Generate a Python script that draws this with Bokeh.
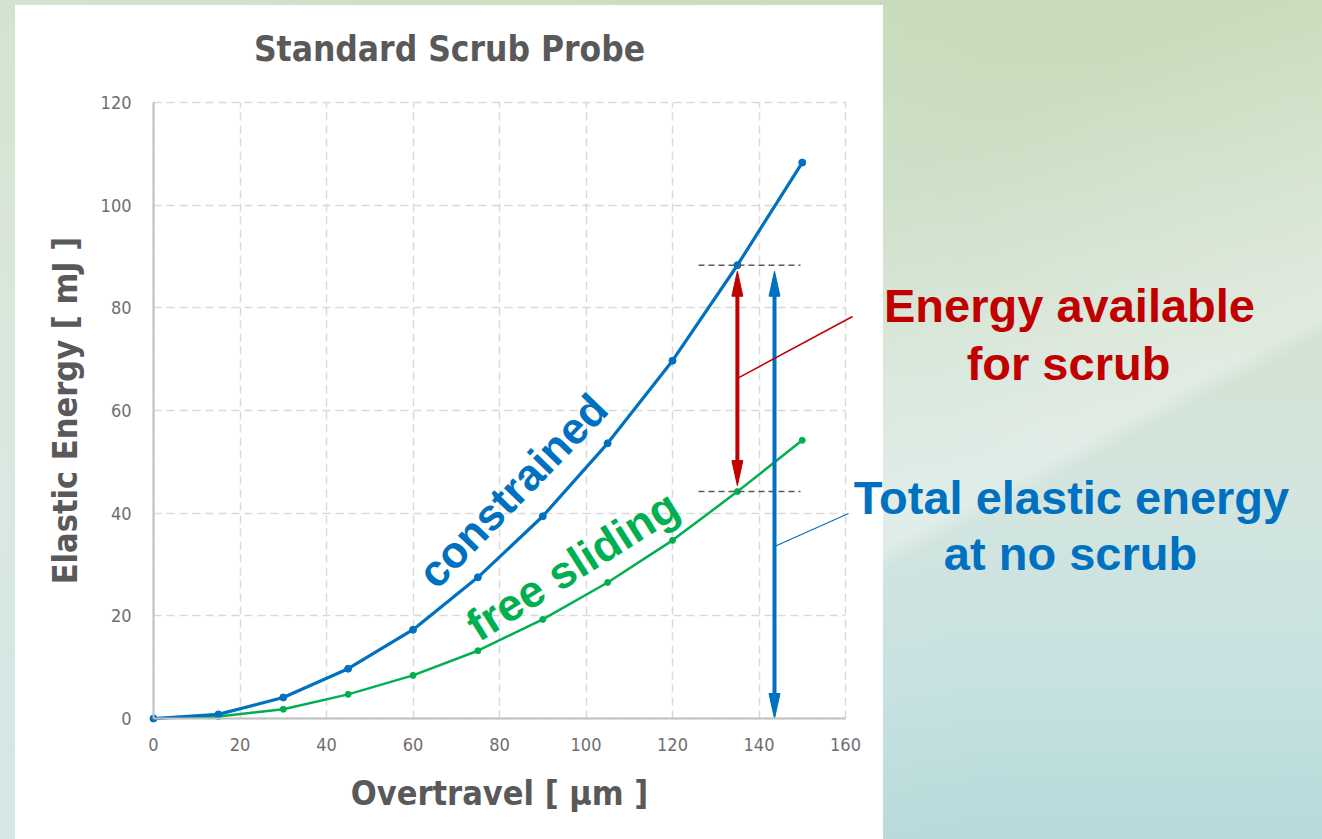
from bokeh.plotting import figure
from bokeh.models import Range1d, FixedTicker, Label, Arrow, InlineStyleSheet
from bokeh.embed import file_html
from bokeh.resources import INLINE

# ---- data -------------------------------------------------------------
overtravel = [0, 15, 30, 45, 60, 75, 90, 105, 120, 135, 150]          # µm
constrained = [0.0, 0.8, 4.1, 9.7, 17.3, 27.5, 39.4, 53.6, 69.7, 88.3, 108.3]  # mJ
free_sliding = [0.0, 0.4, 1.8, 4.7, 8.4, 13.2, 19.3, 26.5, 34.7, 44.2, 54.2]   # mJ
x_ticks = [0, 20, 40, 60, 80, 100, 120, 140, 160]
y_ticks = [0, 20, 40, 60, 80, 100, 120]

BLUE = "#0070C0"
GREEN = "#00B050"
RED = "#C00000"
GREY = "#595959"
NARROW = "DejaVu Sans Condensed"
BOLD_SANS = "Liberation Sans"

# ---- page geometry (pixels) -------------------------------------------
# The frame fills the whole page; the chart box sits inside it.
W, H = 1322, 839
BL, BR, BT, BB = 153, 845, 102, 718          # chart box edges on the page
X0, X1 = x_ticks[0], x_ticks[-1]
Y0, Y1 = y_ticks[0], y_ticks[-1]
PX_X = (X1 - X0) / (BR - BL)   # data units per pixel, x
PX_Y = (Y1 - Y0) / (BB - BT)   # data units per pixel, y


def dx(px):
    """page x pixel -> data x"""
    return X0 + (px - BL) * PX_X


def dy(py):
    """page y pixel -> data y"""
    return Y0 + (BB - py) * PX_Y


background = InlineStyleSheet(css="""
:host {
  background:
    linear-gradient(#ffffff, #ffffff) 15px 5px / 868px 834px no-repeat,
    linear-gradient(152deg, rgba(255,255,255,0) 42%, rgba(255,255,255,0.32) 66%, rgba(255,255,255,0) 67.5%),
    linear-gradient(to right, rgba(226,236,230,0.5) 0%, rgba(226,236,230,0) 75%),
    linear-gradient(to bottom, #c7dbb9 0%, #d2e2d2 40%, #d3e5df 60%, #c6e1e1 82%, #b6dada 100%);
}
""")

p = figure(width=W, height=H, title=None,
           x_range=Range1d(dx(0), dx(W)), y_range=Range1d(dy(H), dy(0)),
           output_backend="svg", toolbar_location=None, min_border=0,
           background_fill_color=None, border_fill_color=None,
           outline_line_color=None, stylesheets=[background])

# ---- axes & grid --------------------------------------------------------
p.xaxis.fixed_location = Y0
p.yaxis.fixed_location = X0
p.xaxis.bounds = (X0, X1)
p.yaxis.bounds = (Y0, Y1)
p.xaxis.ticker = FixedTicker(ticks=x_ticks)
p.yaxis.ticker = FixedTicker(ticks=y_ticks)
for ax in (p.xaxis[0], p.yaxis[0]):
    ax.axis_line_color = "#bfbfbf"
    ax.axis_line_width = 2
    ax.major_tick_line_color = None
    ax.minor_tick_line_color = None
    ax.major_tick_out = 0
    ax.major_tick_in = 0
    ax.minor_tick_out = 0
    ax.minor_tick_in = 0
    ax.major_label_text_font = NARROW
    ax.major_label_text_font_size = "18px"
    ax.major_label_text_color = "#6e6e6e"
    ax.axis_label_text_font = NARROW
    ax.axis_label_text_font_style = "bold"
    ax.axis_label_text_font_size = "34px"
    ax.axis_label_text_color = GREY
p.xaxis.axis_label = "Overtravel [ µm ]"
p.yaxis.axis_label = "Elastic Energy [ mJ ]"
p.xaxis.major_label_standoff = 19
p.yaxis.major_label_standoff = 22
p.xaxis.axis_label_standoff = 19
p.yaxis.axis_label_standoff = 13

p.xgrid.bounds = (X0, X1)
p.xgrid.cross_bounds = (Y0, Y1)
p.ygrid.bounds = (Y0, Y1)
p.ygrid.cross_bounds = (X0, X1)
for g in (p.xgrid[0], p.ygrid[0]):
    g.grid_line_color = "#d9d9d9"
    g.grid_line_width = 1.5
    g.grid_line_dash = "8 5"

# ---- series -------------------------------------------------------------
p.line(overtravel, free_sliding, line_color=GREEN, line_width=2.5)
p.scatter(overtravel, free_sliding, size=6, color=GREEN)
p.line(overtravel, constrained, line_color=BLUE, line_width=3.2)
p.scatter(overtravel, constrained, size=7, color=BLUE)

# ---- reference marks at 135 µm -----------------------------------------
i_ref = overtravel.index(135)
e_hi = constrained[i_ref]
e_lo = free_sliding[i_ref]

p.segment(x0=[dx(698)] * 2, y0=[e_hi, e_lo], x1=[dx(800)] * 2, y1=[e_hi, e_lo],
          line_color=GREY, line_width=1.5, line_dash="6 4")

HEAD_L = 25 * PX_Y
HEAD_W = 5.5 * PX_X
GAP = 6 * PX_Y


def double_arrow(x, y_bot, y_top, color):
    p.segment(x0=[x], y0=[y_bot + HEAD_L * 0.8], x1=[x], y1=[y_top - HEAD_L * 0.8],
              line_color=color, line_width=4)
    p.patches(xs=[[x, x - HEAD_W, x + HEAD_W], [x, x - HEAD_W, x + HEAD_W]],
              ys=[[y_top, y_top - HEAD_L, y_top - HEAD_L],
                  [y_bot, y_bot + HEAD_L, y_bot + HEAD_L]],
              fill_color=color, line_color=color, line_width=1)


arrow_x_red = overtravel[i_ref]
arrow_x_blue = dx(774)
double_arrow(arrow_x_red, e_lo + GAP, e_hi - GAP, RED)
double_arrow(arrow_x_blue, 0, e_hi - GAP, BLUE)

# leader lines to the side notes
p.add_layout(Arrow(end=None, x_start=arrow_x_red, y_start=(e_lo + e_hi) / 2,
                   x_end=dx(852), y_end=dy(316), line_color=RED, line_width=1.5))
p.add_layout(Arrow(end=None, x_start=arrow_x_blue, y_start=dy(546),
                   x_end=dx(848), y_end=dy(513), line_color=BLUE, line_width=1.2))


# ---- texts --------------------------------------------------------------
def label(text, xp, yp, size, color, font, angle=0.0, baseline="alphabetic", style="bold"):
    p.add_layout(Label(x=dx(xp), y=dy(yp), text=text, angle=angle,
                       text_font=font, text_font_size=size, text_font_style=style,
                       text_color=color, text_align="center", text_baseline=baseline))


label("Standard Scrub Probe", 449, 48, "35px", GREY, NARROW)
label("constrained", 512, 490, "44px", BLUE, BOLD_SANS, angle=0.80, baseline="middle")
label("free sliding", 572, 565, "45px", GREEN, BOLD_SANS, angle=0.56, baseline="middle")
label("Energy available", 1069, 305, "47px", RED, BOLD_SANS)
label("for scrub", 1068, 363, "47px", RED, BOLD_SANS)
label("Total elastic energy", 1071, 497, "47px", BLUE, BOLD_SANS)
label("at no scrub", 1070, 553, "47px", BLUE, BOLD_SANS)

open("out.html", "w").write(file_html(p, INLINE))
